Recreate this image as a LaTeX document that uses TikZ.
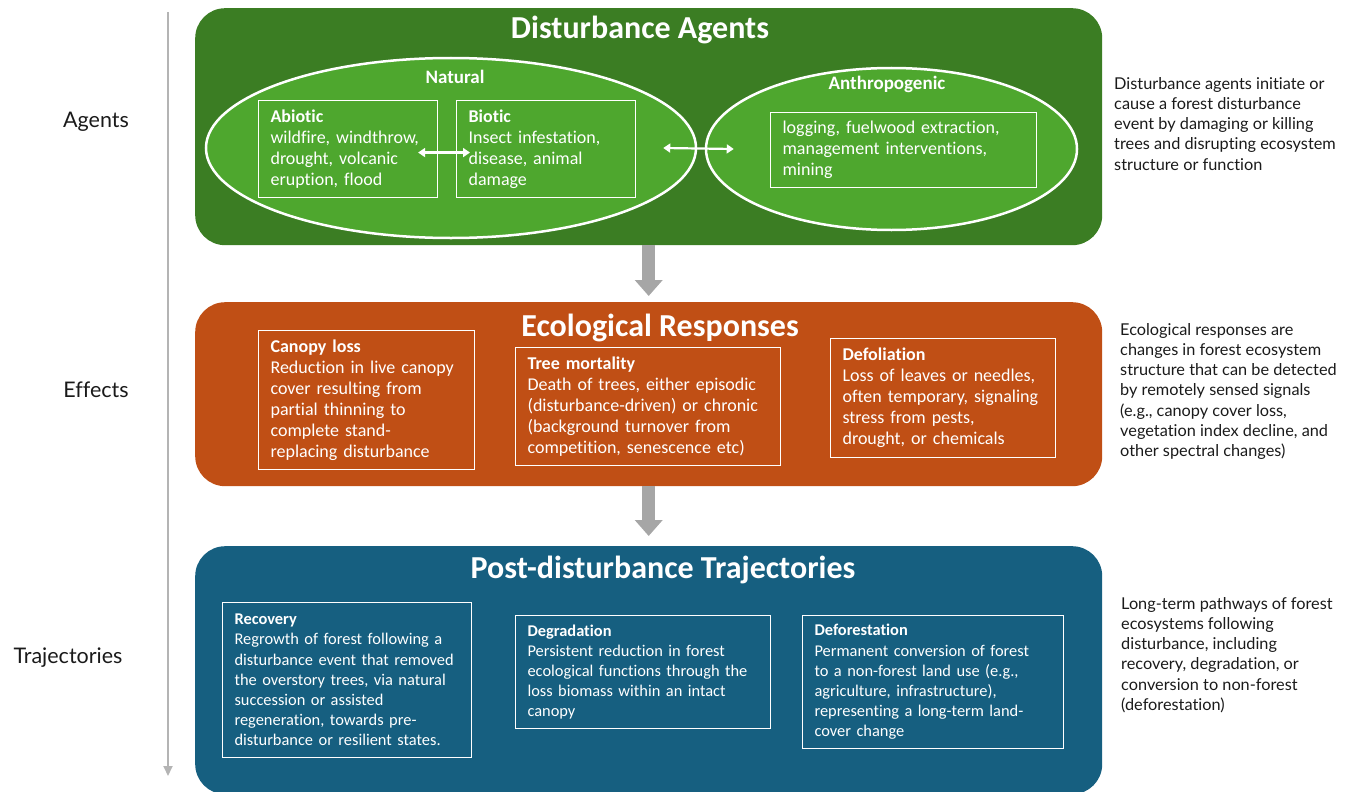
\documentclass[tikz,border=0pt]{standalone}
\usepackage{fontspec}
\setmainfont{Carlito}[Ligatures=NoCommon]
\newfontfamily\sidefont{Lato}[Ligatures=NoCommon]
\usetikzlibrary{arrows.meta,calc,shapes.geometric}

\definecolor{agentsdark}{HTML}{3B7D23}
\definecolor{agentslight}{HTML}{4EA72E}
\definecolor{responseorange}{HTML}{C04F15}
\definecolor{trajblue}{HTML}{165F80}
\definecolor{flowgray}{HTML}{A6A6A6}
\definecolor{axisgray}{HTML}{B4B4B4}
\definecolor{sidetext}{HTML}{1A1A1A}

\begin{document}
\begin{tikzpicture}[x=1pt,y=-1pt,
  panel/.style={draw=none, rounded corners=30pt, minimum width=907pt,
    anchor=north west, inner sep=0pt},
  paneltitle/.style={text=white, font=\fontsize{32}{34}\selectfont\bfseries},
  groupoval/.style={ellipse, draw=white, line width=2.5pt, fill=agentslight, inner sep=0pt},
  grouplabel/.style={text=white, font=\fontsize{19}{22}\selectfont\bfseries},
  itembox/.style={draw=white, line width=1.1pt, text=white, align=left,
    anchor=north west, inner xsep=12pt, inner ysep=3pt,
    font=\fontsize{18}{21}\selectfont},
  smallitem/.style={itembox, font=\fontsize{16.4}{20.2}\selectfont},
  sidelabel/.style={text=sidetext, font=\sidefont\fontsize{21.5}{24}\selectfont},
  note/.style={text=sidetext, align=left, anchor=north west, inner sep=0pt,
    font=\sidefont\fontsize{16.3}{20.2}\selectfont},
  flow/.style={draw=flowgray, line width=13pt,
    -{Triangle[width=27pt,length=16pt]}},
  swap/.style={draw=white, line width=2.2pt,
    {Triangle[width=9pt,length=7pt]}-{Triangle[width=9pt,length=7pt]}},
  timeline/.style={draw=axisgray, line width=2pt,
    -{Triangle[width=9pt,length=10pt]}}
]
\useasboundingbox (0,0) rectangle (1354,792);

% ---- time axis and stage labels ----
\coordinate (axtop) at (168,12);
\coordinate (axbot) at (168,776);
\draw[timeline] (axtop) -- (axbot);
\node[sidelabel] (lblagents) at (96,122) {Agents};
\node[sidelabel] (lbleffects) at (96,390) {Effects};
\node[sidelabel] (lbltraj) at (68,658) {Trajectories};

% ---- Disturbance agents ----
\node[panel, fill=agentsdark, minimum height=237pt] (agents) at (195,8) {};
\node[paneltitle] (agentstitle) at (640,30) {Disturbance Agents};

\node[groupoval, minimum width=490pt, minimum height=180pt] (natural) at (451,148) {};
\node[groupoval, minimum width=371pt, minimum height=162pt] (anthro) at (891.5,149) {};
\node[grouplabel] (naturallbl) at (455,77) {Natural};
\node[grouplabel] (anthrolbl) at (887,84) {Anthropogenic};

\node[itembox, text width=155pt, minimum height=97pt] (abiotic) at (258,100)
  {\textbf{Abiotic}\\wildfire, windthrow,\\drought, volcanic\\eruption, flood};
\node[itembox, text width=155pt, minimum height=97pt] (biotic) at (456,100)
  {\textbf{Biotic}\\Insect infestation,\\disease, animal\\damage};
\node[itembox, text width=242pt, minimum height=75pt] (human) at (770,112)
  {logging, fuelwood extraction,\\management interventions,\\mining};

\draw[swap] ([xshift=-20pt,yshift=-3.5pt]abiotic.east) -- ([xshift=14pt,yshift=-3.5pt]biotic.west);
\draw[swap] ([xshift=-34pt]natural.east) -- ([xshift=29pt]anthro.west);

% ---- Ecological responses ----
\node[panel, fill=responseorange, minimum height=184pt] (responses) at (195,302) {};
\node[paneltitle] (responsestitle) at (660,328) {Ecological Responses};

\node[itembox, text width=192pt, minimum height=139pt] (canopy) at (258,330)
  {\textbf{Canopy loss}\\Reduction in live canopy\\cover resulting from\\partial thinning to\\complete stand-\\replacing disturbance};
\node[itembox, text width=241pt, minimum height=118pt] (mortality) at (515,347)
  {\textbf{Tree mortality}\\Death of trees, either episodic\\(disturbance-driven) or chronic\\(background turnover from\\competition, senescence etc)};
\node[itembox, text width=201pt, minimum height=119pt] (defoliation) at (830,338)
  {\textbf{Defoliation}\\Loss of leaves or needles,\\often temporary, signaling\\stress from pests,\\drought, or chemicals};

% ---- Post-disturbance trajectories ----
\node[panel, fill=trajblue, minimum height=248pt] (traj) at (195,546) {};
\node[paneltitle] (trajtitle) at (663,570) {Post-disturbance Trajectories};

\node[smallitem, text width=225pt, minimum height=155pt] (recovery) at (222,602)
  {\textbf{Recovery}\\Regrowth of forest following a\\disturbance event that removed\\the overstory trees, via natural\\succession or assisted\\regeneration, towards pre-\\disturbance or resilient states.};
\node[smallitem, text width=231pt, minimum height=113pt] (degradation) at (515,615)
  {\textbf{Degradation}\\Persistent reduction in forest\\ecological functions through the\\loss biomass within an intact\\canopy};
\node[smallitem, text width=237pt, minimum height=133pt] (deforestation) at (802,615)
  {\textbf{Deforestation}\\Permanent conversion of forest\\to a non-forest land use (e.g.,\\agriculture, infrastructure),\\representing a long-term land-\\cover change};

% ---- flow between stages ----
\draw[flow] (agents.south) -- ([yshift=6pt]responses.north);
\draw[flow] (responses.south) -- ([yshift=10pt]traj.north);

% ---- explanatory notes ----
\node[note] (agentsnote) at (1114,77)
  {Disturbance agents initiate or\\cause a forest disturbance\\event by damaging or killing\\trees and disrupting ecosystem\\structure or function};
\node[note] (responsesnote) at (1120,323)
  {Ecological responses are\\changes in forest ecosystem\\structure that can be detected\\by remotely sensed signals\\(e.g., canopy cover loss,\\vegetation index decline, and\\other spectral changes)};
\node[note] (trajnote) at (1121,597)
  {Long-term pathways of forest\\ecosystems following\\disturbance, including\\recovery, degradation, or\\conversion to non-forest\\(deforestation)};
\end{tikzpicture}
\end{document}
